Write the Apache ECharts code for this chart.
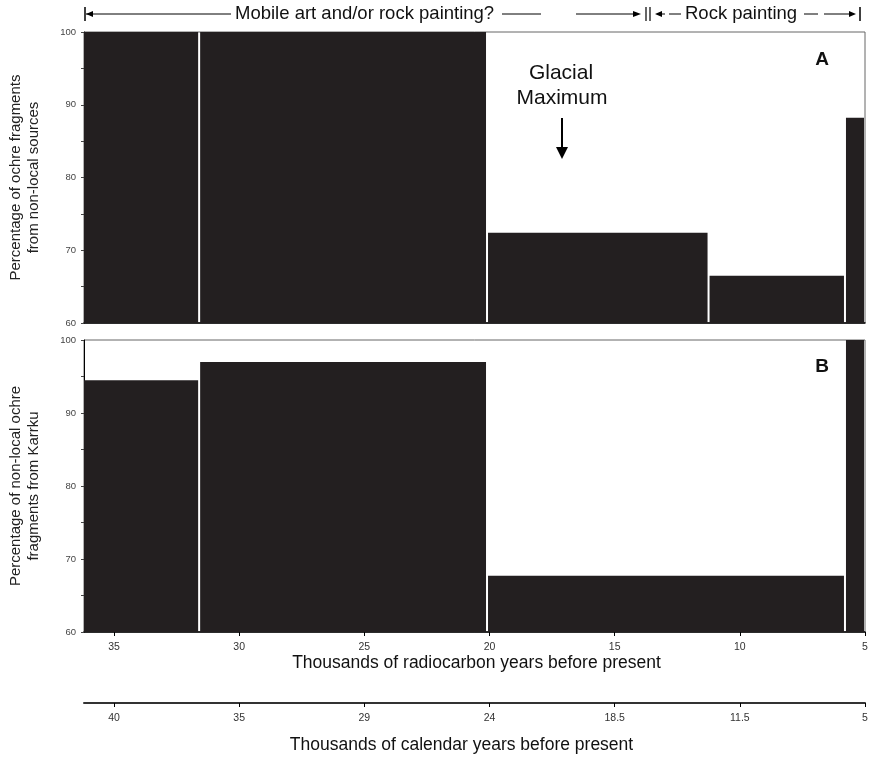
<!DOCTYPE html>
<html><head><meta charset="utf-8">
<script src="https://cdn.jsdelivr.net/npm/echarts@6/dist/echarts.min.js"></script>
<style>html,body{margin:0;padding:0;background:#fff}#c{width:870px;height:757px}</style>
</head><body><div id="c"></div>
<script>
// Tick positions on the radiocarbon scale (thousands of years BP)
const tickPositions = [35, 30, 25, 20, 15, 10, 5];
const radiocarbonLabels = ['35', '30', '25', '20', '15', '10', '5'];
const calendarLabels = ['40', '35', '29', '24', '18.5', '11.5', '5'];
// Panel A: ochre from non-local sources (%)
const binStartsA = [36.2, 31.6, 20.1, 11.25, 5.8];
const binEndsA   = [31.6, 20.1, 11.25, 5.8, 5];
const valuesA    = [100, 100, 72.4, 66.5, 88.2];
// Panel B: non-local ochre from Karrku (%)
const binStartsB = [36.2, 31.6, 20.1, 5.8];
const binEndsB   = [31.6, 20.1, 5.8, 5];
const valuesB    = [94.5, 97.0, 67.7, 100];
const yTicks = [60, 70, 80, 90, 100];

const FONT = 'Liberation Sans';
const XMIN = 5, XMAX = 36.2, YMIN = 60, YMAX = 100;

function toRows(s, e, v) { return s.map((d, i) => [d, e[i], v[i]]); }
function renderBar(params, api) {
  const s = api.value(0), e = api.value(1), v = api.value(2);
  const p1 = api.coord([s, v]);
  const p2 = api.coord([e, YMIN]);
  const x = Math.min(p1[0], p2[0]);
  const w = Math.abs(p2[0] - p1[0]);
  const first = params.dataIndex === 0;
  return {
    type: 'rect',
    shape: { x: first ? x : x + 1, y: p1[1], width: first ? w - 1 : w - 2, height: p2[1] - p1[1] },
    style: { fill: '#231f20' }
  };
}
function yAxisCfg(grid, name, gap) {
  return {
    type: 'value', gridIndex: grid, min: YMIN, max: YMAX, interval: 10,
    name: name, nameLocation: 'middle', nameRotate: 90, nameGap: gap,
    nameTextStyle: { fontFamily: FONT, fontSize: 15, color: '#222', lineHeight: 18 },
    axisLine: { show: true, lineStyle: { color: '#000', width: 1 } },
    axisTick: { show: true, length: 3, lineStyle: { color: '#444' } },
    minorTick: { show: true, splitNumber: 2, length: 3, lineStyle: { color: '#444' } },
    axisLabel: { fontFamily: FONT, fontSize: 9.5, color: '#444', margin: 8,
      customValues: yTicks },
    splitLine: { show: false }
  };
}
function xAxisCfg(grid, opts) {
  return Object.assign({
    type: 'value', gridIndex: grid, min: XMIN, max: XMAX, inverse: true,
    position: 'bottom',
    splitLine: { show: false },
    axisLine: { show: true, onZero: false, lineStyle: { color: '#000', width: 1.5 } }
  }, opts);
}
const tickLabel = (labels) => (v) => {
  const i = tickPositions.indexOf(Math.round(v * 100) / 100);
  return i >= 0 ? labels[i] : '';
};

const chart = echarts.init(document.getElementById('c'), null, { renderer: 'canvas' });
chart.setOption({
  animation: false,
  backgroundColor: '#fff',
  grid: [
    { left: 84, top: 32, width: 781, height: 291, show: true, borderColor: '#666', borderWidth: 1, backgroundColor: 'transparent', containLabel: false, outerBoundsMode: 'none' },
    { left: 84, top: 340, width: 781, height: 292, show: true, borderColor: '#666', borderWidth: 1, backgroundColor: 'transparent', containLabel: false, outerBoundsMode: 'none' }
  ],
  xAxis: [
    xAxisCfg(0, { axisTick: { show: false }, axisLabel: { show: false } }),
    xAxisCfg(1, {
      name: 'Thousands of radiocarbon years before present',
      nameLocation: 'middle', nameGap: 22,
      nameTextStyle: { fontFamily: FONT, fontSize: 17.5, color: '#111', padding: [0, 0, 0, 4] },
      axisTick: { show: true, length: 4, customValues: tickPositions, lineStyle: { color: '#000' } },
      axisLabel: { fontFamily: FONT, fontSize: 10.5, color: '#333', margin: 10,
        customValues: tickPositions, formatter: tickLabel(radiocarbonLabels) }
    }),
    xAxisCfg(1, {
      offset: 71,
      name: 'Thousands of calendar years before present',
      nameLocation: 'middle', nameGap: 33,
      nameTextStyle: { fontFamily: FONT, fontSize: 17.5, color: '#111', padding: [0, 26, 0, 0] },
      axisLine: { show: true, onZero: false, lineStyle: { color: '#333', width: 2 } },
      axisTick: { show: true, length: 4, customValues: tickPositions, lineStyle: { color: '#000' } },
      axisLabel: { fontFamily: FONT, fontSize: 10.5, color: '#333', margin: 10,
        customValues: tickPositions, formatter: tickLabel(calendarLabels) }
    })
  ],
  yAxis: [
    yAxisCfg(0, 'Percentage of ochre fragments\nfrom non-local sources', 41),
    yAxisCfg(1, 'Percentage of non-local ochre\nfragments from Karrku', 41)
  ],
  series: [
    { type: 'custom', xAxisIndex: 0, yAxisIndex: 0, renderItem: renderBar,
      encode: { x: [0, 1], y: 2 }, data: toRows(binStartsA, binEndsA, valuesA), clip: true },
    { type: 'custom', xAxisIndex: 1, yAxisIndex: 1, renderItem: renderBar,
      encode: { x: [0, 1], y: 2 }, data: toRows(binStartsB, binEndsB, valuesB), clip: true }
  ],
  graphic: [
    // top period annotation
    { type: 'line', shape: { x1: 85, y1: 7, x2: 85, y2: 21 }, style: { stroke: '#000', lineWidth: 1.5 } },
    { type: 'polygon', shape: { points: [[86, 14], [93, 11], [93, 17]] }, style: { fill: '#000' } },
    { type: 'line', shape: { x1: 86, y1: 14, x2: 231, y2: 14 }, style: { stroke: '#000', lineWidth: 1 } },
    { type: 'text', x: 235, y: 14, style: { text: 'Mobile art and/or rock painting?', fontFamily: FONT, fontSize: 18.5, fill: '#111', verticalAlign: 'middle' } },
    { type: 'line', shape: { x1: 502, y1: 14, x2: 541, y2: 14 }, style: { stroke: '#000', lineWidth: 1 } },
    { type: 'line', shape: { x1: 576, y1: 14, x2: 634, y2: 14 }, style: { stroke: '#000', lineWidth: 1 } },
    { type: 'polygon', shape: { points: [[641, 14], [633, 11], [633, 17]] }, style: { fill: '#000' } },
    { type: 'line', shape: { x1: 646, y1: 7, x2: 646, y2: 21 }, style: { stroke: '#000', lineWidth: 1.2 } },
    { type: 'line', shape: { x1: 650, y1: 7, x2: 650, y2: 21 }, style: { stroke: '#000', lineWidth: 1.2 } },
    { type: 'polygon', shape: { points: [[655, 14], [662, 11], [662, 17]] }, style: { fill: '#000' } },
    { type: 'line', shape: { x1: 662, y1: 14, x2: 665, y2: 14 }, style: { stroke: '#000', lineWidth: 1 } },
    { type: 'line', shape: { x1: 669, y1: 14, x2: 681, y2: 14 }, style: { stroke: '#000', lineWidth: 1 } },
    { type: 'text', x: 685, y: 14, style: { text: 'Rock painting', fontFamily: FONT, fontSize: 18.5, fill: '#111', verticalAlign: 'middle' } },
    { type: 'line', shape: { x1: 804, y1: 14, x2: 818, y2: 14 }, style: { stroke: '#000', lineWidth: 1 } },
    { type: 'line', shape: { x1: 824, y1: 14, x2: 850, y2: 14 }, style: { stroke: '#000', lineWidth: 1 } },
    { type: 'polygon', shape: { points: [[856, 14], [849, 11], [849, 17]] }, style: { fill: '#000' } },
    { type: 'line', shape: { x1: 860, y1: 7, x2: 860, y2: 21 }, style: { stroke: '#000', lineWidth: 1.5 } },
    // Glacial Maximum
    { type: 'text', x: 561, y: 73, style: { text: 'Glacial', fontFamily: FONT, fontSize: 21, fill: '#111', align: 'center', verticalAlign: 'middle' } },
    { type: 'text', x: 562, y: 98, style: { text: 'Maximum', fontFamily: FONT, fontSize: 21, fill: '#111', align: 'center', verticalAlign: 'middle' } },
    { type: 'line', shape: { x1: 562, y1: 118, x2: 562, y2: 149 }, style: { stroke: '#000', lineWidth: 2 } },
    { type: 'polygon', shape: { points: [[556, 147], [568, 147], [562, 159]] }, style: { fill: '#000' } },
    // panel letters
    { type: 'text', x: 822, y: 60, style: { text: 'A', fontFamily: FONT, fontSize: 19, fontWeight: 'bold', fill: '#111', align: 'center', verticalAlign: 'middle' } },
    { type: 'text', x: 822, y: 367, style: { text: 'B', fontFamily: FONT, fontSize: 19, fontWeight: 'bold', fill: '#111', align: 'center', verticalAlign: 'middle' } }
  ]
});
</script></body></html>
